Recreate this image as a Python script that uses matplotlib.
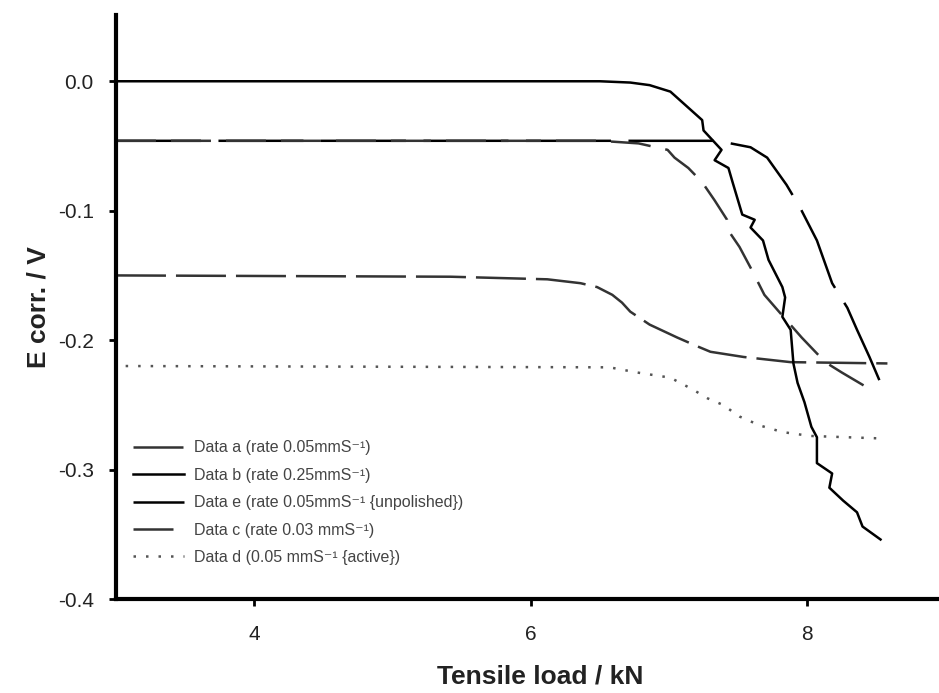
import numpy as np
import matplotlib
matplotlib.use("Agg")
import matplotlib.pyplot as plt

plt.rcParams['font.family'] = ['Liberation Sans', 'DejaVu Sans']
plt.rcParams['axes.unicode_minus'] = False

# Data a: plateau near -0.15 V
a_load = [3.0, 5.42, 6.12, 6.36, 6.48, 6.59, 6.66, 6.72, 6.86, 7.06, 7.21, 7.30, 7.54, 7.88, 8.58]
a_e = [-0.150, -0.151, -0.153, -0.156, -0.159, -0.165, -0.171, -0.178, -0.188, -0.198,
       -0.205, -0.209, -0.213, -0.217, -0.218]

# Data b: plateau at 0.0 V, long jagged drop
b_load = [3.0, 6.50, 6.72, 6.86, 7.01, 7.24, 7.25, 7.38, 7.33, 7.43, 7.46, 7.53, 7.62, 7.59,
          7.68, 7.72, 7.82, 7.84, 7.82, 7.88, 7.90, 7.93, 7.98, 8.03, 8.07, 8.07, 8.18, 8.16,
          8.26, 8.36, 8.40, 8.53]
b_e = [0.0, 0.0, -0.001, -0.003, -0.008, -0.030, -0.038, -0.053, -0.061, -0.067, -0.078,
       -0.103, -0.107, -0.113, -0.123, -0.138, -0.159, -0.167, -0.182, -0.192, -0.218,
       -0.233, -0.248, -0.267, -0.275, -0.295, -0.303, -0.314, -0.324, -0.333, -0.344, -0.354]

# Data e: plateau at -0.047 V, late drop
e_load = [3.0, 7.35, 7.59, 7.71, 7.85, 7.95, 8.07, 8.18, 8.29, 8.36, 8.45, 8.53]
e_e = [-0.046, -0.046, -0.051, -0.059, -0.080, -0.098, -0.123, -0.156, -0.175, -0.192,
       -0.213, -0.233]

# Data c: plateau at -0.047 V, earlier drop
c_load = [3.0, 6.50, 6.78, 6.99, 7.04, 7.14, 7.24, 7.33, 7.42, 7.44, 7.51, 7.60, 7.69,
          7.82, 7.96, 8.13, 8.25, 8.44]
c_e = [-0.046, -0.046, -0.048, -0.053, -0.059, -0.067, -0.078, -0.092, -0.107, -0.117,
       -0.128, -0.146, -0.165, -0.181, -0.198, -0.217, -0.225, -0.237]

# Data d: dotted, active
d_load = [3.07, 6.57, 6.77, 7.01, 7.17, 7.28, 7.39, 7.51, 7.66, 7.82, 8.02, 8.55]
d_e = [-0.220, -0.221, -0.225, -0.229, -0.238, -0.245, -0.250, -0.259, -0.266, -0.271,
       -0.274, -0.276]

labels = ['Data a (rate 0.05mmS⁻¹)',
          'Data b (rate 0.25mmS⁻¹)',
          'Data e (rate 0.05mmS⁻¹ {unpolished})',
          'Data c (rate 0.03 mmS⁻¹)',
          'Data d (0.05 mmS⁻¹ {active})']

x_ticks = [4, 6, 8]
y_ticks = [0.0, -0.1, -0.2, -0.3, -0.4]

fig = plt.figure(figsize=(9.39, 6.93), dpi=100)
ax = fig.add_axes([0.1235, 0.1356, 0.8765, 0.8424])

lw = 1.8
ax.plot(a_load, a_e, color='#333333', lw=lw, linestyle=(0, (20, 4)), label=labels[0])
ax.plot(b_load, b_e, color='black', lw=lw, label=labels[1])
ax.plot(e_load, e_e, color='black', lw=lw, linestyle=(0, (34, 7)), label=labels[2])
ax.plot(c_load, c_e, color='#333333', lw=lw, linestyle=(0, (16, 6)), label=labels[3])
ax.plot(d_load, d_e, color='#555555', lw=lw, linestyle=(0, (1, 4)), label=labels[4])

ax.set_xlim(3, 8.953)
ax.set_ylim(-0.4, 0.051)
ax.set_xticks(x_ticks)
ax.set_xticklabels([str(t) for t in x_ticks])
ax.set_yticks(y_ticks)
ax.set_yticklabels(['%.1f' % t if t != 0 else '0.0' for t in y_ticks])

for s in ['top', 'right']:
    ax.spines[s].set_visible(False)
for s in ['left', 'bottom']:
    ax.spines[s].set_linewidth(3)

ax.tick_params(axis='both', direction='out', length=5, width=2, labelsize=15,
               labelcolor='#222222')
ax.tick_params(axis='x', pad=14)
ax.tick_params(axis='y', pad=11)

ax.set_xlabel('Tensile load / kN', fontsize=19, fontweight='bold', color='#222222')
ax.set_ylabel('E corr. / V', fontsize=19, fontweight='bold', color='#222222')
ax.xaxis.set_label_coords(0.515, -0.112)
ax.yaxis.set_label_coords(-0.08, 0.5)

leg = ax.legend(loc='upper left', bbox_to_anchor=(0.0207, 0.272), frameon=False,
                fontsize=11.5, borderaxespad=0, borderpad=0, handlelength=3.2,
                handletextpad=0.6, labelspacing=0.78)
for t in leg.get_texts():
    t.set_color('#444444')

fig.savefig('out.png', dpi=100)
